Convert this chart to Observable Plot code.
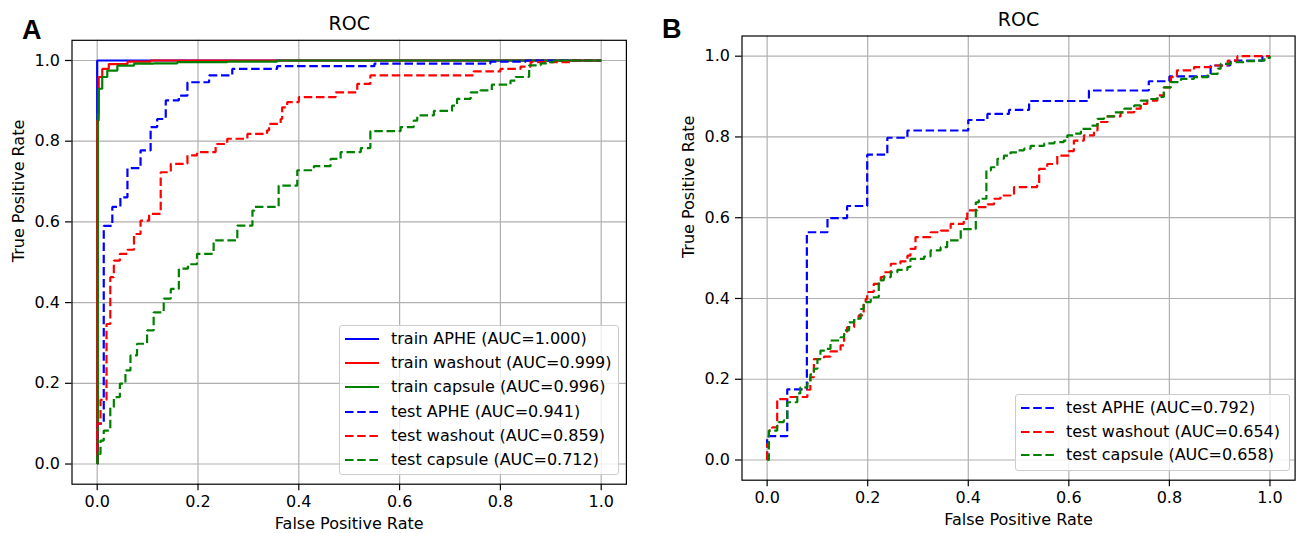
<!DOCTYPE html>
<html>
<head>
<meta charset="utf-8">
<script src="https://cdn.jsdelivr.net/npm/d3@7"></script>
<script src="https://cdn.jsdelivr.net/npm/@observablehq/plot@0.6"></script>
<style>
  html, body { margin: 0; padding: 0; background: #fff; }
  #fig { position: relative; width: 1299px; height: 533px; overflow: hidden; font-family: "DejaVu Sans", sans-serif; color: #000; }
  .panel { position: absolute; top: 0; }
  .letter { position: absolute; font-family: "Liberation Sans", Arial, sans-serif; font-weight: bold; font-size: 27px; line-height: 27px; }
  .legend { position: absolute; background: rgba(255,255,255,0.8); border: 1.2px solid #cccccc; border-radius: 3px; box-sizing: border-box; }
  .legend .lbl { position: absolute; height: 20px; line-height: 20px; font-size: 16px; white-space: nowrap; }
  .legend svg { position: absolute; overflow: visible; }
</style>
</head>
<body>
<div id="fig"></div>
<script>
// ---------- shared axis values ----------
const tickValues = [0, 0.2, 0.4, 0.6, 0.8, 1.0];
const axisDomain = [-0.05, 1.05];
const chartTitle = "ROC";
const xLabel = "False Positive Rate";
const yLabel = "True Positive Rate";

// ---------- Panel A: [FPR, TPR] step points ----------
const trainAPHE_A = [[0,0],[0,1],[1,1]];
const trainWashout_A = [[0,0],[0,0.851],[0.003,0.959],[0.010,0.979],[0.023,0.991],[0.060,0.997],[0.106,1.0],[1,1]];
const trainCapsule_A = [[0,0],[0.0013,0.868],[0.003,0.930],[0.010,0.959],[0.020,0.975],[0.040,0.987],[0.073,0.992],[0.112,0.993],[0.159,0.996],[0.258,0.997],[0.357,1.0],[1,1]];
const testAPHE_A = [[0,0],[0,0.10],[0.013,0.59],[0.030,0.637],[0.046,0.661],[0.060,0.733],[0.086,0.777],[0.106,0.835],[0.119,0.855],[0.136,0.901],[0.162,0.913],[0.179,0.946],[0.222,0.963],[0.268,0.979],[0.357,0.986],[0.55,0.992],[0.78,0.997],[0.85,1.0],[1,1]];
const testWashout_A = [[0,0],[0,0.10],[0.0066,0.159],[0.0185,0.347],[0.026,0.463],[0.033,0.504],[0.045,0.521],[0.060,0.531],[0.073,0.570],[0.086,0.603],[0.103,0.620],[0.126,0.723],[0.146,0.744],[0.179,0.765],[0.198,0.773],[0.235,0.793],[0.258,0.806],[0.298,0.818],[0.337,0.827],[0.341,0.843],[0.364,0.855],[0.367,0.884],[0.377,0.897],[0.400,0.909],[0.473,0.921],[0.516,0.942],[0.542,0.963],[0.747,0.973],[0.800,0.979],[0.840,0.985],[0.860,0.996],[0.939,1.0],[1,1]];
const testCapsule_A = [[0,0],[0,0.025],[0.0066,0.058],[0.013,0.083],[0.026,0.141],[0.033,0.166],[0.045,0.199],[0.056,0.232],[0.066,0.269],[0.079,0.298],[0.099,0.331],[0.112,0.376],[0.132,0.410],[0.146,0.434],[0.162,0.484],[0.180,0.495],[0.198,0.521],[0.231,0.554],[0.278,0.591],[0.308,0.628],[0.312,0.637],[0.360,0.690],[0.397,0.728],[0.430,0.738],[0.463,0.756],[0.483,0.773],[0.523,0.783],[0.542,0.825],[0.602,0.835],[0.628,0.851],[0.635,0.864],[0.668,0.875],[0.704,0.888],[0.714,0.905],[0.741,0.921],[0.760,0.926],[0.783,0.940],[0.820,0.950],[0.830,0.959],[0.857,0.988],[0.880,0.993],[0.899,0.996],[0.906,1.0],[1,1]];

const namesA = ["train APHE", "train washout", "train capsule", "test APHE", "test washout", "test capsule"];
const aucA = ["1.000", "0.999", "0.996", "0.941", "0.859", "0.712"];

// ---------- Panel B ----------
const testAPHE_B = [[0,0],[0,0.059],[0.040,0.175],[0.079,0.564],[0.120,0.599],[0.159,0.629],[0.199,0.756],[0.239,0.798],[0.279,0.816],[0.400,0.842],[0.438,0.857],[0.481,0.867],[0.521,0.889],[0.640,0.915],[0.759,0.938],[0.800,0.950],[0.882,0.977],[0.921,0.989],[0.985,1.0],[1,1]];
const testWashout_B = [[0,0],[0,0.04],[0.0035,0.073],[0.010,0.081],[0.020,0.151],[0.040,0.156],[0.080,0.174],[0.086,0.205],[0.093,0.25],[0.113,0.256],[0.126,0.269],[0.146,0.284],[0.153,0.312],[0.159,0.329],[0.173,0.35],[0.182,0.358],[0.192,0.385],[0.196,0.399],[0.199,0.416],[0.212,0.436],[0.226,0.453],[0.232,0.465],[0.246,0.486],[0.265,0.492],[0.279,0.506],[0.285,0.523],[0.295,0.552],[0.325,0.564],[0.345,0.568],[0.365,0.585],[0.391,0.597],[0.398,0.618],[0.418,0.626],[0.438,0.633],[0.451,0.647],[0.464,0.655],[0.484,0.659],[0.491,0.676],[0.537,0.682],[0.541,0.721],[0.557,0.733],[0.577,0.754],[0.600,0.765],[0.610,0.791],[0.630,0.804],[0.650,0.816],[0.657,0.837],[0.677,0.851],[0.703,0.861],[0.730,0.870],[0.743,0.882],[0.756,0.890],[0.776,0.903],[0.789,0.923],[0.803,0.948],[0.815,0.965],[0.849,0.973],[0.883,0.977],[0.916,0.989],[0.935,1.0],[1,1]];
const testCapsule_B = [[0,0],[0.0035,0.073],[0.020,0.085],[0.023,0.094],[0.033,0.098],[0.040,0.143],[0.060,0.165],[0.066,0.180],[0.080,0.190],[0.086,0.212],[0.093,0.226],[0.100,0.250],[0.106,0.271],[0.116,0.275],[0.126,0.296],[0.146,0.304],[0.153,0.321],[0.163,0.341],[0.173,0.350],[0.186,0.374],[0.192,0.391],[0.206,0.403],[0.222,0.445],[0.232,0.453],[0.246,0.465],[0.259,0.471],[0.279,0.478],[0.285,0.498],[0.312,0.504],[0.325,0.519],[0.345,0.527],[0.358,0.544],[0.385,0.572],[0.415,0.638],[0.421,0.647],[0.436,0.717],[0.445,0.725],[0.458,0.746],[0.471,0.754],[0.484,0.762],[0.498,0.767],[0.511,0.771],[0.524,0.778],[0.551,0.784],[0.571,0.787],[0.590,0.791],[0.597,0.804],[0.610,0.808],[0.624,0.820],[0.644,0.828],[0.657,0.845],[0.670,0.851],[0.690,0.861],[0.710,0.870],[0.730,0.878],[0.743,0.890],[0.756,0.894],[0.776,0.899],[0.789,0.923],[0.803,0.936],[0.823,0.944],[0.849,0.948],[0.876,0.956],[0.896,0.969],[0.902,0.981],[0.922,0.985],[0.949,0.988],[0.969,0.989],[0.989,0.996],[1.0,1.0]];

const namesB = ["test APHE", "test washout", "test capsule"];
const aucB = ["0.792", "0.654", "0.658"];

// ---------- styles ----------
const BLUE = "#0000ff", RED = "#ff0000", GREEN = "#008000";
const DASH = "8.5,3.7";
const LW = 2.2;

const seriesA = [
  {data: trainAPHE_A, color: BLUE, dash: null},
  {data: trainWashout_A, color: RED, dash: null},
  {data: trainCapsule_A, color: GREEN, dash: null},
  {data: testAPHE_A, color: BLUE, dash: DASH},
  {data: testWashout_A, color: RED, dash: DASH},
  {data: testCapsule_A, color: GREEN, dash: DASH}
].map((s, i) => ({...s, label: `${namesA[i]} (AUC=${aucA[i]})`}));

const seriesB = [
  {data: testAPHE_B, color: BLUE, dash: DASH},
  {data: testWashout_B, color: RED, dash: DASH},
  {data: testCapsule_B, color: GREEN, dash: DASH}
].map((s, i) => ({...s, label: `${namesB[i]} (AUC=${aucB[i]})`}));

const fmt = d3.format(".1f");

function makePanel(cfg) {
  return Plot.plot({
    width: cfg.w, height: cfg.h,
    marginLeft: cfg.ml, marginRight: cfg.mr, marginTop: cfg.mt, marginBottom: cfg.mb,
    style: {fontFamily: "'DejaVu Sans', sans-serif", fontSize: "16px", color: "#000", background: "transparent", overflow: "visible"},
    x: {domain: axisDomain},
    y: {domain: axisDomain},
    marks: [
      Plot.gridX({ticks: tickValues, stroke: "#b0b0b0", strokeOpacity: 1, strokeWidth: 1.2}),
      Plot.gridY({ticks: tickValues, stroke: "#b0b0b0", strokeOpacity: 1, strokeWidth: 1.2}),
      ...cfg.series.map(s => Plot.line(s.data, {
        x: d => d[0], y: d => d[1], curve: "step-after",
        stroke: s.color, strokeWidth: LW, strokeDasharray: s.dash ?? undefined,
        strokeLinejoin: "miter", strokeLinecap: "butt"
      })),
      Plot.frame({stroke: "#000", strokeWidth: 1.2}),
      Plot.axisX({ticks: tickValues, tickFormat: fmt, tickSize: 6.5, tickPadding: 5, label: null, stroke: "#000", strokeWidth: 1.2, fontSize: 16}),
      Plot.axisY({ticks: tickValues, tickFormat: fmt, tickSize: 6.5, tickPadding: 5.5, label: null, stroke: "#000", strokeWidth: 1.2, fontSize: 16}),
      Plot.text([chartTitle], {text: d => d, frameAnchor: "top", lineAnchor: "middle", dy: -16.5, fontSize: 19}),
      Plot.text([xLabel], {text: d => d, frameAnchor: "bottom", lineAnchor: "middle", dy: 39.5, fontSize: 16}),
      Plot.text([yLabel], {text: d => d, frameAnchor: "left", lineAnchor: "middle", dx: -53, rotate: -90, fontSize: 16})
    ]
  });
}

const fig = document.getElementById("fig");

function addPanel(left, cfg) {
  const wrap = document.createElement("div");
  wrap.className = "panel";
  wrap.style.left = left + "px";
  wrap.appendChild(makePanel(cfg));
  fig.appendChild(wrap);
}

addPanel(0, {w: 650, h: 533, ml: 71.5, mr: 24.1, mt: 39.8, mb: 49.3, series: seriesA});
addPanel(650, {w: 649, h: 533, ml: 91.5, mr: 4.4, mt: 35.5, mb: 53.3, series: seriesB});

function addLetter(txt, left, top) {
  const d = document.createElement("div");
  d.className = "letter";
  d.textContent = txt;
  d.style.left = left + "px";
  d.style.top = top + "px";
  fig.appendChild(d);
}
addLetter("A", 22, 17);
addLetter("B", 662, 16);

function addLegend(series, box) {
  const lg = document.createElement("div");
  lg.className = "legend";
  lg.style.left = box.left + "px";
  lg.style.top = box.top + "px";
  lg.style.width = box.width + "px";
  lg.style.height = box.height + "px";
  series.forEach((s, i) => {
    const cy = box.first + i * box.step;
    const svg = document.createElementNS("http://www.w3.org/2000/svg", "svg");
    svg.setAttribute("width", box.lineLen);
    svg.setAttribute("height", 6);
    svg.style.left = box.lineLeft + "px";
    svg.style.top = (cy - 3) + "px";
    const ln = document.createElementNS("http://www.w3.org/2000/svg", "line");
    ln.setAttribute("x1", 0); ln.setAttribute("x2", box.lineLen);
    ln.setAttribute("y1", 3); ln.setAttribute("y2", 3);
    ln.setAttribute("stroke", s.color);
    ln.setAttribute("stroke-width", LW);
    if (s.dash) ln.setAttribute("stroke-dasharray", s.dash);
    svg.appendChild(ln);
    lg.appendChild(svg);
    const t = document.createElement("div");
    t.className = "lbl";
    t.textContent = s.label;
    t.style.left = box.textLeft + "px";
    t.style.top = (cy - 10) + "px";
    lg.appendChild(t);
  });
  fig.appendChild(lg);
}

addLegend(seriesA, {left: 339, top: 325, width: 280, height: 150, first: 13, step: 24.2, lineLeft: 4.5, lineLen: 34, textLeft: 51});
addLegend(seriesB, {left: 1015, top: 394, width: 275, height: 77, first: 13.3, step: 23.4, lineLeft: 5, lineLen: 34, textLeft: 50});
</script>
</body>
</html>
